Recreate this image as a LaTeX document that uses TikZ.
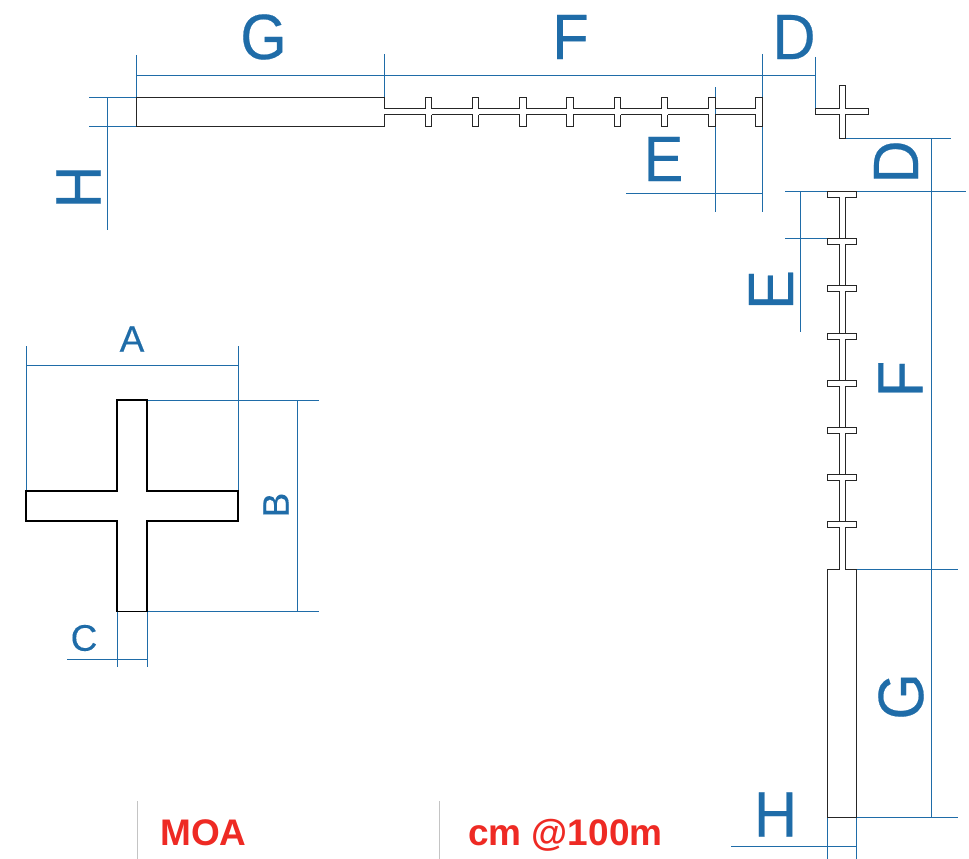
\documentclass[tikz,border=0pt]{standalone}
\usepackage{fontspec}
\setmainfont{Liberation Sans}
\newfontfamily\biglabfont[FakeBold=0.35,FakeStretch=0.93]{Liberation Sans}
\newfontfamily\smalllabfont[FakeBold=0.2]{Liberation Sans}
\definecolor{dimblue}{HTML}{1F6CA8}
\definecolor{moared}{HTML}{EE2A24}
\definecolor{sepgrey}{HTML}{C4C4C4}
\tikzset{
  dim/.style={draw=dimblue,line width=1pt},
  beam/.style={draw=black!85,line width=1pt,line join=miter},
  biglab/.style={text=dimblue,font=\biglabfont\fontsize{64}{64}\selectfont,inner sep=0pt},
  smalllab/.style={text=dimblue,font=\smalllabfont\fontsize{37}{37}\selectfont,inner sep=0pt},
  redlab/.style={text=moared,font=\bfseries\fontsize{37}{37}\selectfont,inner sep=0pt,anchor=base west},
  sep/.style={draw=sepgrey,line width=1pt},
}
\begin{document}
\begin{tikzpicture}[x=1pt,y=-1pt]
\useasboundingbox (0,0) rectangle (969,859);
% --- dimension lines
\draw[dim] (136,55)--(136,97) (384,54)--(384,97) (762,54)--(762,212) (815.5,57)--(815.5,109);
\draw[dim] (136,75.5)--(815.5,75.5);
\draw[dim] (715,87)--(715,212) (626,193)--(762,193);
\draw[dim] (845,138)--(951,138) (931.5,138)--(931.5,817.5);
\draw[dim] (785,191.5)--(966,191.5) (800,191.5)--(800,332) (785,238.5)--(827,238.5);
\draw[dim] (856.5,569.5)--(958,569.5) (856.5,817.5)--(958,817.5);
\draw[dim] (856.5,817.5)--(856.5,859) (827,817.5)--(827,859) (731,846)--(856.5,846);
\draw[dim] (89,97)--(136,97) (89,126.5)--(136,126.5) (107.5,97)--(107.5,230);
\draw[dim] (26,365)--(238,365) (26,346)--(26,491) (238,346)--(238,491);
\draw[dim] (147,400)--(319,400) (147,611.5)--(319,611.5) (297,400)--(297,611.5);
\draw[dim] (117,611.5)--(117,667) (147,611.5)--(147,667) (67,659)--(147,659);
% --- horizontal beam
\draw[beam] (384,108.5)--(384,97)--(136,97)--(136,126.5)--(384,126.5)--(384,114.5);
\foreach \i in {0,...,7}{
  \pgfmathsetmacro{\xa}{425+47.25*\i}
  \pgfmathsetmacro{\xb}{\xa+6.5}
  \pgfmathsetmacro{\xp}{\i==0 ? 384 : \xa-47.25+6.5}
  \draw[beam] (\xp,108.5)--(\xa,108.5)--(\xa,97)--(\xb,97)--(\xb,108.5);
  \draw[beam] (\xp,114.5)--(\xa,114.5)--(\xa,126.5)--(\xb,126.5)--(\xb,114.5);
}
\draw[beam] (762,97)--(762,126.5);
% --- vertical beam
\draw[beam] (839,569.5)--(827,569.5)--(827,817.5)--(856.5,817.5)--(856.5,569.5)--(845,569.5);
\foreach \i in {0,...,7}{
  \pgfmathsetmacro{\ya}{191.5+47.2*\i}
  \pgfmathsetmacro{\yb}{\ya+6}
  \pgfmathsetmacro{\yn}{\i==7 ? 569.5 : \ya+47.2}
  \draw[beam] (839,\yn)--(839,\yb)--(827,\yb)--(827,\ya)--(856.5,\ya)--(856.5,\yb)--(845,\yb)--(845,\yn);
}
% --- small cross
\draw[beam] (839,85)--(845,85)--(845,108.5)--(868,108.5)--(868,114.5)--(845,114.5)--(845,138)--(839,138)--(839,114.5)--(815.5,114.5)--(815.5,108.5)--(839,108.5)--cycle;
% --- big cross
\draw[draw=black,line width=1.3pt] (117,400)--(147,400)--(147,491)--(238,491)--(238,521)--(147,521)--(147,611.5)--(117,611.5)--(117,521)--(26,521)--(26,491)--(117,491)--cycle;
% --- separators
\draw[sep] (137,801)--(137,859) (439,801)--(439,859);
% --- labels
\node[biglab] (g1) at (263.5,37) {G};
\node[biglab] (f1) at (570.5,37) {F};
\node[biglab] (d1) at (794,37) {D};
\node[biglab] (e1) at (663.5,159) {E};
\node[biglab,rotate=90] (h1) at (78.5,187) {H};
\node[biglab,rotate=90] (d2) at (896,162) {D};
\node[biglab,rotate=90] (e2) at (771,290) {E};
\node[biglab,rotate=90] (f2) at (900.5,379) {F};
\node[biglab,rotate=90] (g2) at (901,696.5) {G};
\node[biglab] (h2) at (775.5,814.5) {H};
\node[smalllab] (a) at (132,339) {A};
\node[smalllab,rotate=90] (b) at (276,505) {B};
\node[smalllab] (c) at (84,638) {C};
\node[redlab] (moa) at (160,845) {MOA};
\node[redlab] (cm) at (468,845) {cm @100m};
\end{tikzpicture}
\end{document}
